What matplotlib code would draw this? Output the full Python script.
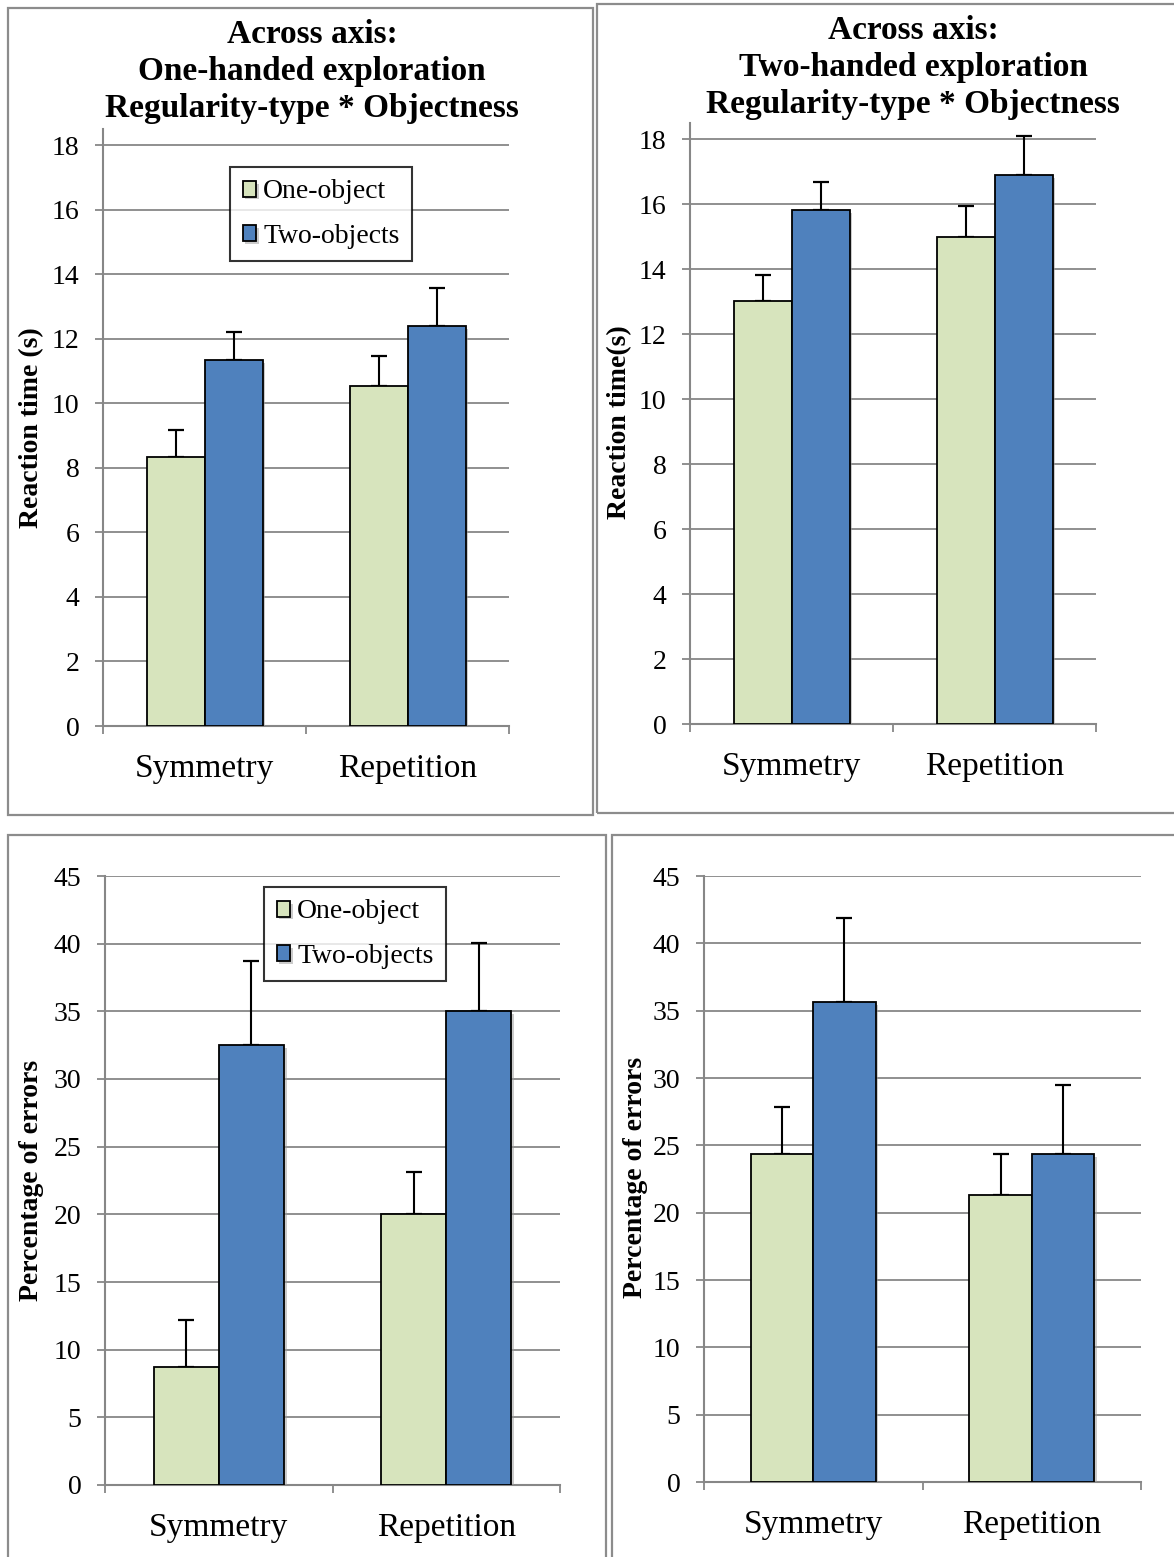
import matplotlib
matplotlib.use("Agg")
import matplotlib.pyplot as plt
import numpy as np
from matplotlib.patches import Rectangle
from matplotlib import patheffects as pe

plt.rcParams['font.family'] = ['Liberation Serif', 'DejaVu Serif']

# ---------------- data ----------------
categories = ['Symmetry', 'Repetition']
series = ['One-object', 'Two-objects']

rt_one_hand_one = [8.34, 10.53]
rt_one_hand_one_err = [0.82, 0.94]
rt_one_hand_two = [11.33, 12.39]
rt_one_hand_two_err = [0.89, 1.19]

rt_two_hand_one = [13.03, 15.00]
rt_two_hand_one_err = [0.80, 0.93]
rt_two_hand_two = [15.81, 16.89]
rt_two_hand_two_err = [0.88, 1.20]

pe_one_hand_one = [8.74, 20.00]
pe_one_hand_one_err = [3.47, 3.10]
pe_one_hand_two = [32.50, 35.00]
pe_one_hand_two_err = [6.25, 5.06]

pe_two_hand_one = [24.37, 21.28]
pe_two_hand_one_err = [3.47, 3.05]
pe_two_hand_two = [35.62, 24.37]
pe_two_hand_two_err = [6.28, 5.08]

rt_ticks = [0, 2, 4, 6, 8, 10, 12, 14, 16, 18]
pe_ticks = [0, 5, 10, 15, 20, 25, 30, 35, 40, 45]

# ---------------- style ----------------
W, H = 1174, 1557
C_ONE = '#D7E4BD'
C_TWO = '#4F81BD'
GRID = '#878787'
BOX = '#8c8c8c'

fig = plt.figure(figsize=(W / 100, H / 100), dpi=100)


def rect(l, r, t, b):
    return [l / W, 1 - b / H, (r - l) / W, (b - t) / H]


def box(x0, y0, x1, y1):
    fig.patches.append(Rectangle((x0 / W, 1 - y1 / H), (x1 - x0) / W, (y1 - y0) / H,
                                 transform=fig.transFigure, fill=False,
                                 ec=BOX, lw=1.6, zorder=0))


box(8, 8, 593, 815)
box(597, 4, 1180, 813)
box(8, 835, 606, 1562)
box(612, 835, 1180, 1562)

shadow = [pe.SimplePatchShadow(offset=(2, -2), shadow_rgbFace='#999999', alpha=0.5), pe.Normal()]


def panel(r, v1, e1, v2, e2, ylim, ticks, legend_at=None):
    ax = fig.add_axes(r)
    x = np.arange(len(categories))
    w = 2 / 7
    b1 = ax.bar(x - w / 2, v1, w, color=C_ONE, edgecolor='black', lw=1.3,
                label=series[0], zorder=3)
    b2 = ax.bar(x + w / 2, v2, w, color=C_TWO, edgecolor='black', lw=1.3,
                label=series[1], zorder=3)
    for p in list(b1) + list(b2):
        p.set_path_effects(shadow)
    ax.errorbar(x - w / 2, v1, yerr=[np.zeros(len(v1)), e1], fmt='none',
                ecolor='black', elinewidth=1.5, capsize=6, capthick=1.6, zorder=2)
    ax.errorbar(x + w / 2, v2, yerr=[np.zeros(len(v2)), e2], fmt='none',
                ecolor='black', elinewidth=1.5, capsize=6, capthick=1.6, zorder=2)
    ax.set_xlim(-0.5, len(categories) - 0.5)
    ax.set_ylim(*ylim)
    ax.set_yticks(ticks)
    ax.yaxis.grid(True, color=GRID, lw=1.3)
    ax.set_axisbelow(True)
    ax.set_xticks(x)
    ax.set_xticklabels(categories, fontsize=24)
    ax.set_xticks(np.arange(-0.5, len(categories)), minor=True)
    ax.tick_params(axis='x', which='major', length=0, pad=20)
    ax.tick_params(axis='x', which='minor', length=6, width=1.3, color=GRID, direction='out')
    ax.tick_params(axis='y', length=6, width=1.3, color=GRID, direction='out',
                   labelsize=20, pad=11)
    for s in ['top', 'right']:
        ax.spines[s].set_visible(False)
    for s in ['left', 'bottom']:
        ax.spines[s].set_color(GRID)
        ax.spines[s].set_linewidth(1.5)
    if legend_at is not None:
        leg = ax.legend(loc='upper left', bbox_to_anchor=(legend_at[0] / W, 1 - legend_at[1] / H),
                        bbox_transform=fig.transFigure, borderaxespad=0,
                        fontsize=20, frameon=True, fancybox=False, shadow=False,
                        handlelength=0.5, handleheight=0.5, handletextpad=0.25,
                        labelspacing=0.7, borderpad=0.45)
        leg.get_frame().set_edgecolor('black')
        leg.get_frame().set_linewidth(1.5)
    return ax


ax1 = panel(rect(103, 509, 129, 726), rt_one_hand_one, rt_one_hand_one_err,
            rt_one_hand_two, rt_one_hand_two_err, (0, 18.5), rt_ticks, legend_at=(230, 167))
ax2 = panel(rect(690, 1096, 123, 724), rt_two_hand_one, rt_two_hand_one_err,
            rt_two_hand_two, rt_two_hand_two_err, (0, 18.5), rt_ticks)
ax3 = panel(rect(105, 560, 876, 1485), pe_one_hand_one, pe_one_hand_one_err,
            pe_one_hand_two, pe_one_hand_two_err, (0, 45), pe_ticks, legend_at=(264, 887))
ax4 = panel(rect(704, 1141, 876, 1482), pe_two_hand_one, pe_two_hand_one_err,
            pe_two_hand_two, pe_two_hand_two_err, (0, 45), pe_ticks)

# titles
t1 = ['Across axis:', 'One-handed exploration', 'Regularity-type * Objectness']
t2 = ['Across axis:', 'Two-handed exploration', 'Regularity-type * Objectness']
for line, yb in zip(t1, [43, 80, 117]):
    fig.text(312 / W, 1 - yb / H, line, ha='center', va='baseline',
             fontsize=24, fontweight='bold')
for line, yb in zip(t2, [39, 76, 113]):
    fig.text(913 / W, 1 - yb / H, line, ha='center', va='baseline',
             fontsize=24, fontweight='bold')

# y labels
fig.text(32 / W, 1 - 428 / H, 'Reaction time (s)', rotation=90, ha='center', va='center',
         fontsize=20, fontweight='bold')
fig.text(620 / W, 1 - 422 / H, 'Reaction time(s)', rotation=90, ha='center', va='center',
         fontsize=20, fontweight='bold')
fig.text(32 / W, 1 - 1180 / H, 'Percentage of errors', rotation=90, ha='center', va='center',
         fontsize=20, fontweight='bold')
fig.text(635 / W, 1 - 1177 / H, 'Percentage of errors', rotation=90, ha='center', va='center',
         fontsize=20, fontweight='bold')

fig.savefig('out.png', dpi=100)
